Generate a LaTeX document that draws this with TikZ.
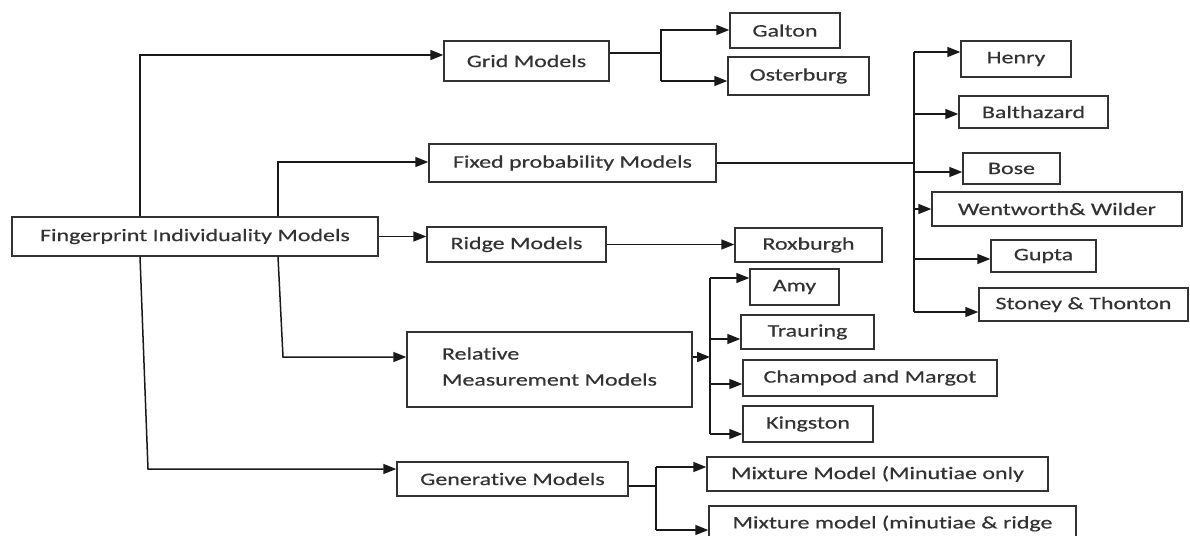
\documentclass[tikz,border=0pt]{standalone}
\usepackage{fontspec}
\setmainfont{Carlito}[FakeStretch=1.36,FakeBold=0.5,Ligatures=NoCommon]
\usetikzlibrary{arrows.meta}

\begin{document}
\begin{tikzpicture}[x=1pt,y=-1pt,
        box/.style 2 args={draw=black!80,line width=1.4pt,inner sep=0pt,
            minimum width=#1pt,minimum height=#2pt,text=black!80,
            font=\fontsize{17.6}{26}\selectfont},
        link/.style={line width=1.5pt,black!90},
        >={Triangle[length=13pt,width=10pt]}]
        \useasboundingbox (0,0) rectangle (1190,535);

        % boxes
        \node[box={366}{39}] (root) at (195,236.5) {Fingerprint Individuality Models};
        \node[box={165}{40}] (grid) at (526.5,61) {Grid Models};
        \node[box={110}{35}] (galton) at (785,30.5) {Galton};
        \node[box={141}{38}] (oster) at (798.5,76) {Osterburg};
        \node[box={287}{38}] (fixed) at (572.5,163) {Fixed probability Models};
        \node[box={110}{36}] (henry) at (1016,59) {Henry};
        \node[box={149}{32}] (balth) at (1033.5,112) {Balthazard};
        \node[box={97}{31}] (bose) at (1011.5,168.5) {Bose};
        \node[box={250}{34}] (went) at (1057,209) {Wentworth\& Wilder};
        \node[box={105}{32}] (gupta) at (1043.5,256) {Gupta};
        \node[box={209}{33}] (stoney) at (1083.5,304.5) {Stoney \& Thonton};
        \node[box={179}{35}] (ridge) at (516.5,244.5) {Ridge Models};
        \node[box={147}{34}] (roxb) at (808.5,245) {Roxburgh};
        \node[box={285}{75},align=left] (rel) at (549.5,369.5) {Relative\\Measurement Models\\[-20pt]};
        \node[box={89}{36}] (amy) at (794.5,287) {Amy};
        \node[box={133}{34}] (traur) at (807.5,332) {Trauring};
        \node[box={254}{36}] (champ) at (870,378) {Champod and Margot};
        \node[box={130}{36}] (king) at (808,424) {Kingston};
        \node[box={231}{34}] (gen) at (512.5,479) {Generative Models};
        \node[box={341}{34}] (mixa) at (877.5,474) {Mixture Model (Minutiae only};
        \node[box={367}{35}] (mixb) at (892.5,523.5) {Mixture model (minutiae \& ridge};

        % trunks out of the root
        \coordinate (ta) at (140,55);
        \coordinate (tb) at (148,469);
        \coordinate (tc) at (278,162);
        \coordinate (td) at (283,357);
        \draw[link,->] (ta |- root.north) -- (ta) -- (ta -| grid.west);
        \draw[link,->] (ta |- root.south) -- (tb) -- (tb -| gen.west);
        \draw[link,->] (tc |- root.north) -- (tc) -- (tc -| fixed.west);
        \draw[link,->] (tc |- root.south) -- (td) -- (td -| rel.west);
        \draw[link,->] (root.east) -- (root.east -| ridge.west);
        \draw[link,->] (ridge.east) -- (ridge.east -| roxb.west);

        % grid models
        \coordinate (ga) at (661,53);
        \coordinate (gb) at (661,30);
        \coordinate (gc) at (661,81);
        \draw[link] (ga -| grid.east) -- (ga);
        \draw[link,->] (gc) -- (gb) -- (gb -| galton.west);
        \draw[link,->] (gc) -- (gc -| oster.west);

        % fixed probability models
        \coordinate (fa) at (914,163);
        \draw[link] (fixed.east |- fa) -- (fa);
        \foreach \y/\n in {52/henry,114/balth,172/bose,209/went,259/gupta,312/stoney}{
            \coordinate (f\n) at (914,\y);
            \draw[link,->] (f\n) -- (f\n -| \n.west);
        }
        \draw[link] (fhenry) -- (fstoney);

        % relative measurement models
        \coordinate (ra) at (710,357);
        \draw[link,->] (rel.east |- ra) -- (ra);
        \foreach \y/\n in {278/amy,339/traur,384/champ,434/king}{
            \coordinate (r\n) at (710,\y);
            \draw[link,->] (r\n) -- (r\n -| \n.west);
        }
        \draw[link] (ramy) -- (rking);

        % generative models
        \coordinate (ea) at (656,486);
        \draw[link] (gen.east |- ea) -- (ea);
        \foreach \y/\n in {467/mixa,530/mixb}{
            \coordinate (e\n) at (656,\y);
            \draw[link,->] (e\n) -- (e\n -| \n.west);
        }
        \draw[link] (emixa) -- (emixb);
    \end{tikzpicture}
\end{document}
